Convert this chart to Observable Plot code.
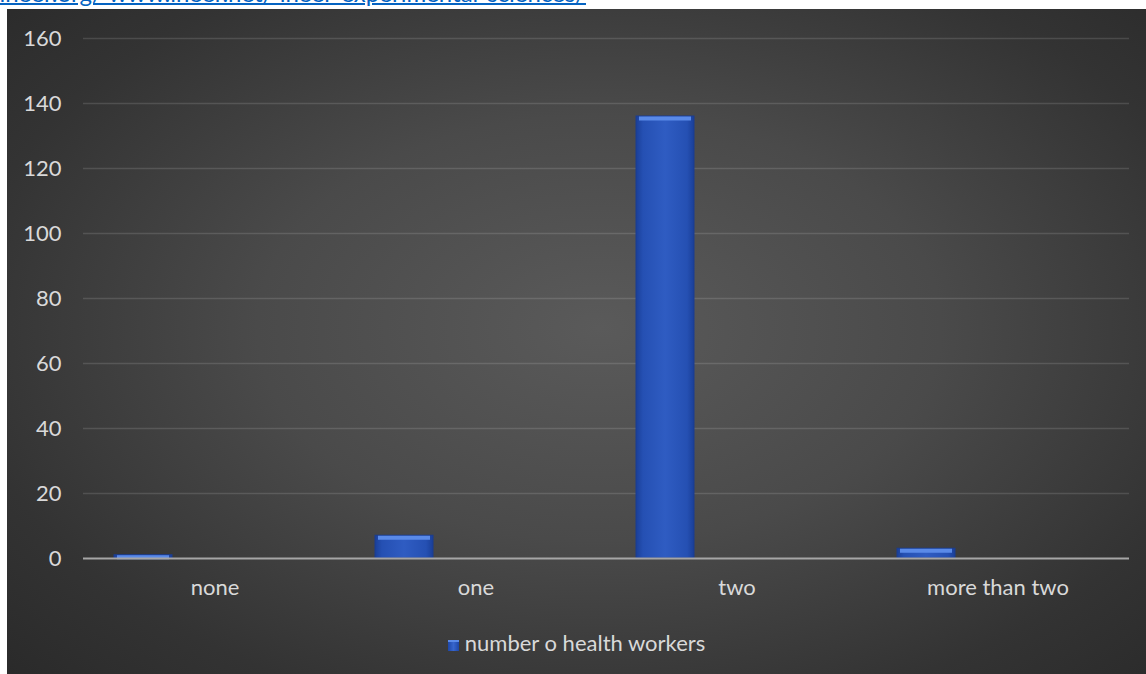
<!DOCTYPE html>
<html>
<head>
<meta charset="utf-8">
<script src="https://cdn.jsdelivr.net/npm/d3@7"></script>
<script src="https://cdn.jsdelivr.net/npm/@observablehq/plot@0.6"></script>
<style>
  html, body { margin: 0; padding: 0; background: #ffffff; overflow: hidden; width: 1146px; height: 674px; }
  #link {
    position: absolute; right: 560px; top: -19px; white-space: nowrap;
    font-family: Lato, "Liberation Sans", sans-serif; font-size: 24px; line-height: 24px;
    color: #0563c1; text-decoration: underline; text-decoration-thickness: 2px;
  }
  #panel {
    position: absolute; left: 7px; top: 9px; width: 1139px; height: 665px;
    background: radial-gradient(ellipse 75% 80% at 52% 48%, #5a5a5a 0%, #4a4a4a 40%, #333333 75%, #282828 100%);
  }
  #legend {
    margin-top: 22px; height: 24px; line-height: 24px; text-align: center;
    font-family: Lato, "Liberation Sans", sans-serif; font-size: 22px; color: #d9d9d9;
  }
  #legend .swatch {
    display: inline-block; width: 11px; height: 11px; margin-right: 6px; vertical-align: 0px;
    background: linear-gradient(to right, #1d46a6, #3765cc 50%, #1d46a6);
    box-shadow: inset 0 2px 0 #5a8ae8;
  }
</style>
</head>
<body>
<div id="link">https://ineer.org/ www.ineer.net/ ineer-experimental-sciences/</div>
<div id="panel"></div>
<script>
// Health-worker counts per category
const categories = ["none", "one", "two", "more than two"];
const counts = [1, 7, 136, 3];
const seriesName = "number o health workers";
const yTicks = [0, 20, 40, 60, 80, 100, 120, 140, 160];

const data = categories.map((category, i) => ({category, count: counts[i]}));

const chart = Plot.plot({
  width: 1139,
  height: 600,
  marginLeft: 76,
  marginRight: 17,
  marginTop: 29,
  marginBottom: 51,
  style: {background: "transparent", color: "#d9d9d9", fontFamily: "Lato, 'Liberation Sans', sans-serif", fontSize: "22px"},
  x: {domain: categories, padding: 0, label: null, tickSize: 0, tickPadding: 21},
  y: {domain: [0, 160], ticks: yTicks, label: null, tickSize: 0, tickPadding: 22},
  marks: [
    Plot.gridY(yTicks.filter(v => v > 0), {stroke: "#ffffff", strokeOpacity: 0.13, strokeWidth: 1.3}),
    Plot.barY(data, {x: "category", y: "count", fill: "url(#barBody)", stroke: "#1a3d92", strokeWidth: 1, insetLeft: 30, insetRight: 173}),
    Plot.tickY(data, {x: "category", y: "count", stroke: "#5a8ae8", strokeWidth: 4, dy: 2, insetLeft: 33, insetRight: 176}),
    Plot.ruleY([0], {stroke: "#a6a6a6", strokeWidth: 2})
  ]
});

// Horizontal shading for the bar bodies
const ns = "http://www.w3.org/2000/svg";
const defs = document.createElementNS(ns, "defs");
const grad = document.createElementNS(ns, "linearGradient");
grad.setAttribute("id", "barBody");
grad.setAttribute("x1", "0"); grad.setAttribute("x2", "1");
grad.setAttribute("y1", "0"); grad.setAttribute("y2", "0");
[["0", "#1a3f98"], ["0.12", "#2550b3"], ["0.5", "#2f5cc2"], ["0.88", "#2550b3"], ["1", "#1a3f98"]].forEach(([o, c]) => {
  const s = document.createElementNS(ns, "stop");
  s.setAttribute("offset", o); s.setAttribute("stop-color", c);
  grad.appendChild(s);
});
defs.appendChild(grad);
chart.insertBefore(defs, chart.firstChild);

const panel = document.getElementById("panel");
panel.appendChild(chart);

const legend = document.createElement("div");
legend.id = "legend";
legend.innerHTML = `<span class="swatch"></span>`;
legend.appendChild(document.createTextNode(seriesName));
panel.appendChild(legend);
</script>
</body>
</html>
